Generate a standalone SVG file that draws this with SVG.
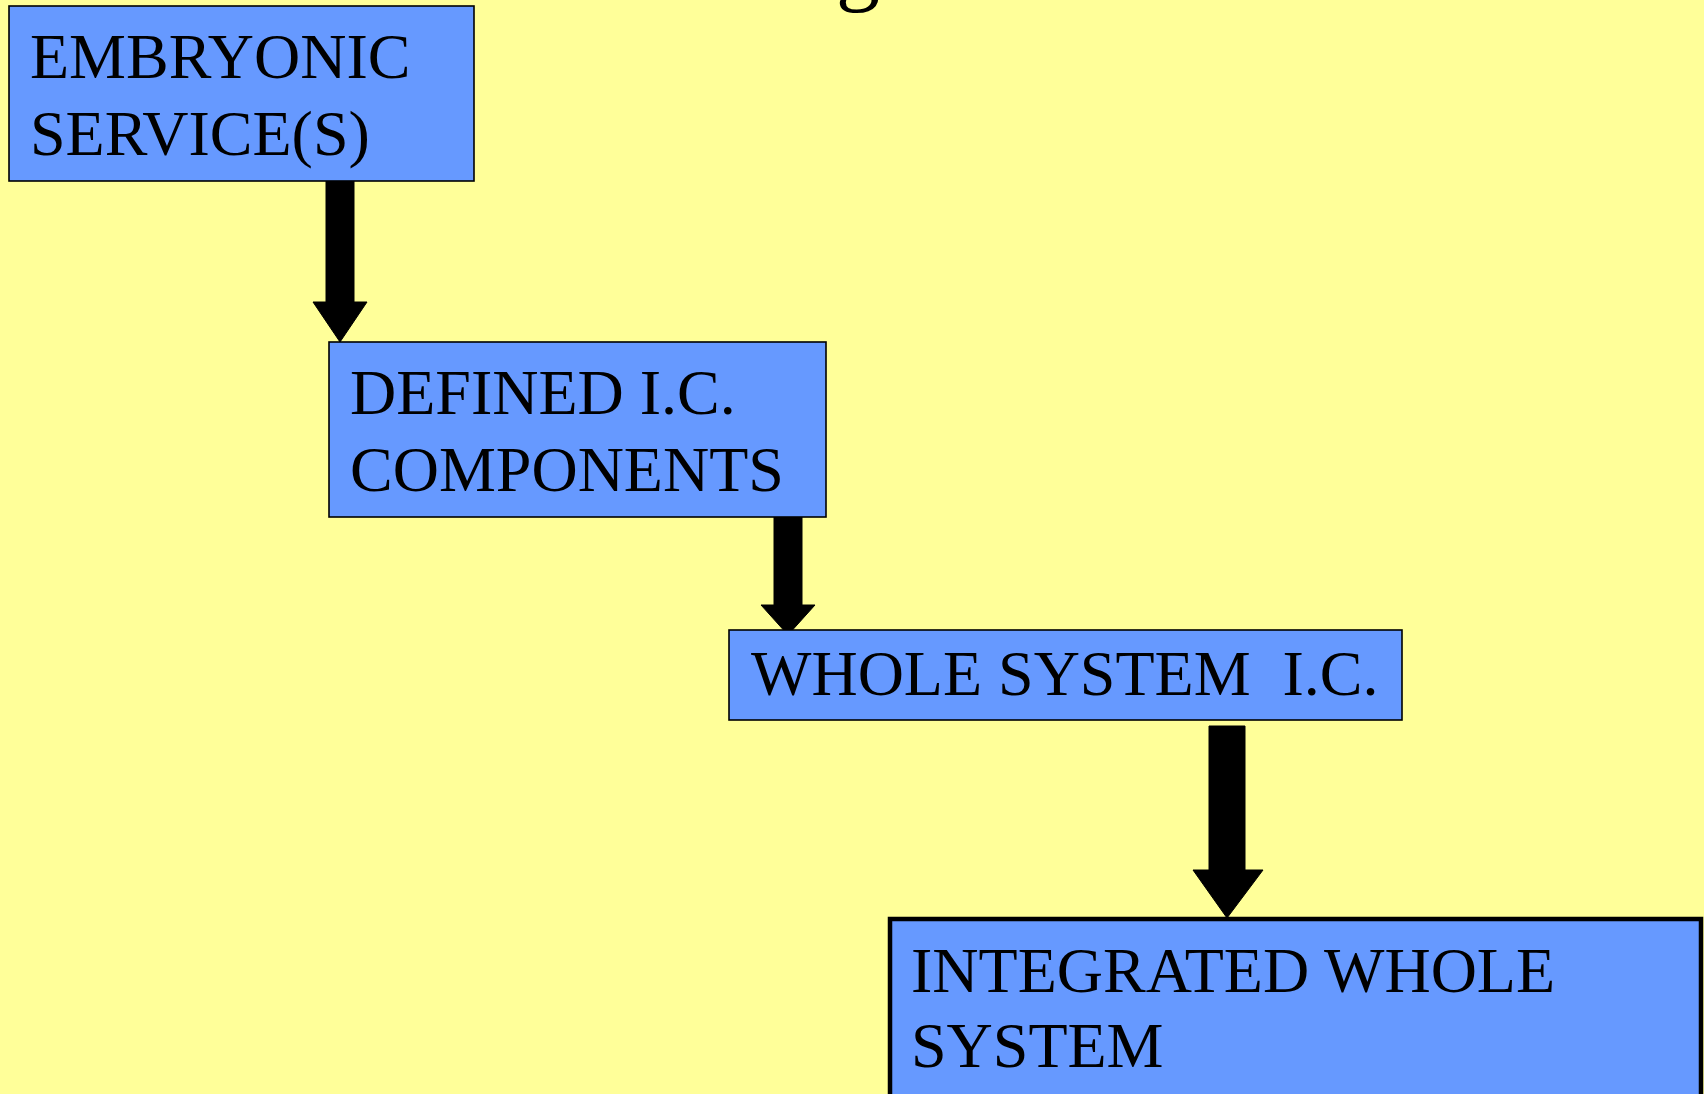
<svg xmlns="http://www.w3.org/2000/svg" width="1704" height="1094" viewBox="0 0 1704 1094">
  <style>
    .bg { fill: #FFFF99; }
    .box { fill: #6699FF; stroke: #000; stroke-width: 1.6; }
    .box-thick { fill: #6699FF; stroke: #000; stroke-width: 4.5; }
    .lbl { font-family: "Liberation Serif", "Times New Roman", serif; font-size: 64px; fill: #000; white-space: pre; }
    .arrow { fill: #000; stroke: #000; stroke-width: 1; stroke-linejoin: round; }
  </style>
  <rect class="bg" x="0" y="0" width="1704" height="1094"/>
  <text class="lbl" x="836" y="-6" style="font-size:88px">g</text>

  <g id="connectors">
    <path class="arrow" d="M326,181 L354,181 L354,302 L367,302 L340,342 L313,302 L326,302 Z"/>
    <path class="arrow" d="M774,517 L802,517 L802,605 L815,605 L788,635 L761,605 L774,605 Z"/>
    <path class="arrow" d="M1209,726 L1245,726 L1245,870 L1263,870 L1227,918 L1193,870 L1209,870 Z"/>
  </g>

  <g id="node-embryonic">
    <rect class="box" x="9" y="6" width="465" height="175"/>
    <text class="lbl" x="30" y="78">EMBRYONIC</text>
    <text class="lbl" x="30" y="155">SERVICE(S)</text>
  </g>

  <g id="node-defined">
    <rect class="box" x="329" y="342" width="497" height="175"/>
    <text class="lbl" x="350" y="414">DEFINED I.C.</text>
    <text class="lbl" x="350" y="491">COMPONENTS</text>
  </g>

  <g id="node-whole">
    <rect class="box" x="729" y="630" width="673" height="90"/>
    <text class="lbl" x="751" y="695">WHOLE SYSTEM  I.C.</text>
  </g>

  <g id="node-integrated">
    <rect class="box-thick" x="890" y="919" width="811" height="200"/>
    <text class="lbl" x="911" y="992">INTEGRATED WHOLE</text>
    <text class="lbl" x="911" y="1067">SYSTEM</text>
  </g>
</svg>
